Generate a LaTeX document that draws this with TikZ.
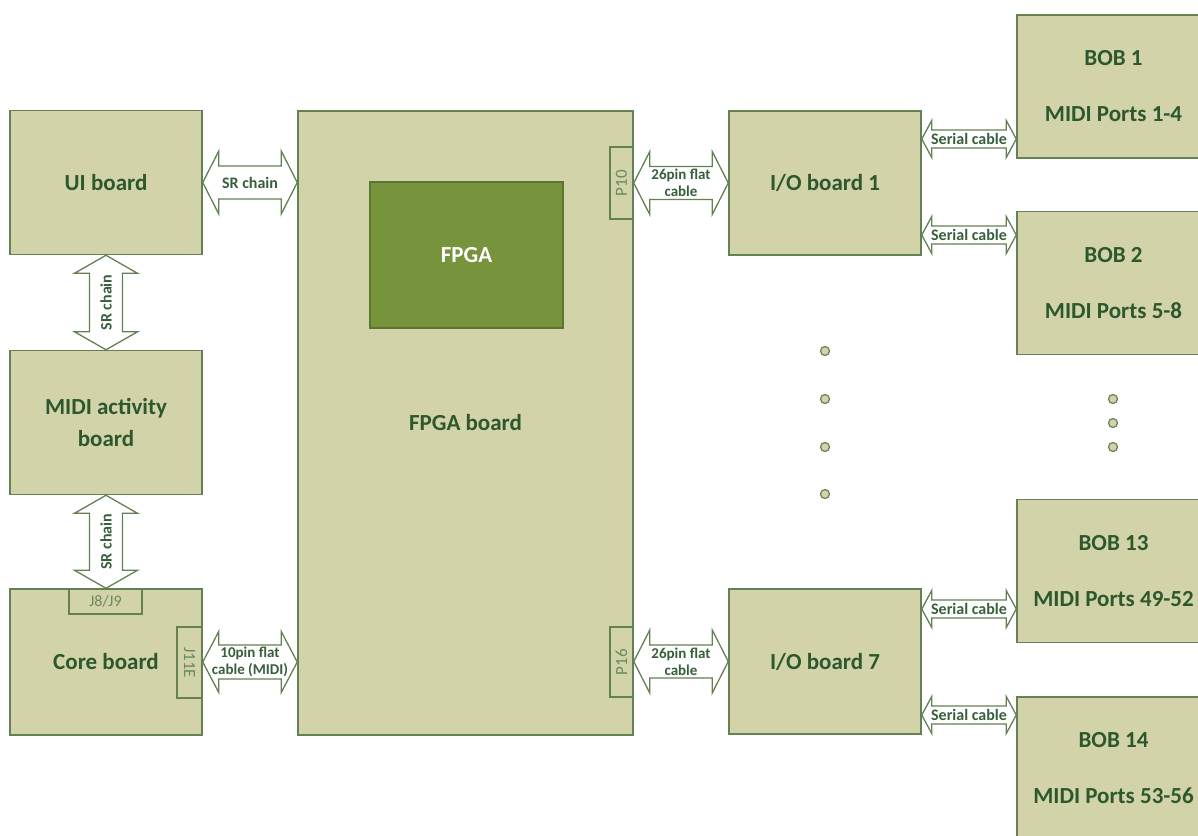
\documentclass[tikz,border=0pt]{standalone}
\usepackage{fontspec}
\setmainfont{Carlito}
\usetikzlibrary{calc}
\definecolor{boxfill}{RGB}{211,211,170}
\definecolor{boxline}{RGB}{100,128,85}
\definecolor{txt}{RGB}{45,88,45}
\definecolor{lbltxt}{RGB}{55,95,60}
\definecolor{chipfill}{RGB}{119,147,60}
\definecolor{chipline}{RGB}{92,116,52}
\definecolor{portxt}{RGB}{105,138,95}
% horizontal double block arrow: #1 left tip, #2 right tip, #3 shaft half, #4 head half, #5 head length
\newcommand\dblH[5]{\draw[barrow] let \p1=(#1), \p2=(#2) in
  (\x1,\y1) -- (\x1+#5pt,\y1+#4pt) -- (\x1+#5pt,\y1+#3pt) -- (\x2-#5pt,\y1+#3pt) -- (\x2-#5pt,\y1+#4pt)
  -- (\x2,\y1) -- (\x2-#5pt,\y1-#4pt) -- (\x2-#5pt,\y1-#3pt) -- (\x1+#5pt,\y1-#3pt) -- (\x1+#5pt,\y1-#4pt) -- cycle;}
% vertical double block arrow: #1 top tip, #2 bottom tip
\newcommand\dblV[5]{\draw[barrow] let \p1=(#1), \p2=(#2) in
  (\x1,\y1) -- (\x1+#4pt,\y1-#5pt) -- (\x1+#3pt,\y1-#5pt) -- (\x1+#3pt,\y2+#5pt) -- (\x1+#4pt,\y2+#5pt)
  -- (\x1,\y2) -- (\x1-#4pt,\y2+#5pt) -- (\x1-#3pt,\y2+#5pt) -- (\x1-#3pt,\y1-#5pt) -- (\x1-#4pt,\y1-#5pt) -- cycle;}
\begin{document}
\begin{tikzpicture}[x=1pt,y=-1pt,
  board/.style={draw=boxline, fill=boxfill, line width=1.5pt, minimum width=192pt, minimum height=144pt,
    inner sep=0pt, text=txt, font=\fontsize{23}{32}\selectfont\bfseries, align=center},
  bob/.style={board, font=\fontsize{23}{56}\selectfont\bfseries},
  chip/.style={draw=chipline, fill=chipfill, line width=1.5pt, minimum width=193pt, minimum height=146pt,
    inner sep=0pt, text=white, font=\fontsize{23}{28}\selectfont\bfseries},
  port/.style={draw=boxline, fill=boxfill, line width=1.3pt, inner sep=0pt, text=portxt,
    font=\fontsize{16}{18}\selectfont},
  barrow/.style={draw=boxline, fill=white, line width=1.3pt, line join=miter},
  lbl/.style={text=lbltxt, inner sep=0pt, align=center, font=\fontsize{15}{17}\selectfont\bfseries},
  slbl/.style={lbl, font=\fontsize{16}{18}\selectfont\bfseries},
  dot/.style={circle, draw=boxline, fill=boxfill, line width=1.2pt, minimum size=9pt, inner sep=0pt}]
\useasboundingbox (0,0) rectangle (1198,835);
\clip (0,0) rectangle (1198,835);

% boards
\node[board] (ui) at (106,182.5) {UI board};
\node[board] (midi) at (106,422.5) {MIDI activity\\board};
\node[board, minimum height=146pt] (core) at (106,662) {Core board};
\node[board, minimum width=335pt, minimum height=624pt] (fpgab) at (465.5,423) {FPGA board};
\node[chip] (chip) at (466.5,255) {FPGA};
\node[board] (io1) at (825,183) {I/O board 1};
\node[board, minimum height=145pt] (io7) at (825,661.5) {I/O board 7};
\node[bob, minimum width=193pt, minimum height=143pt] (bob1) at (1113.5,86.5) {BOB 1\\MIDI Ports 1-4};
\node[bob, minimum width=193pt, minimum height=143pt] (bob2) at (1113.5,283) {BOB 2\\MIDI Ports 5-8};
\node[bob, minimum width=193pt, minimum height=143pt] (bob13) at (1113.5,571) {BOB 13\\MIDI Ports 49-52};
\node[bob, minimum width=193pt, minimum height=143pt] (bob14) at (1113.5,768.5) {BOB 14\\MIDI Ports 53-56};

% connectors on boards
\node[port, minimum width=73pt, minimum height=25pt] (j8) at (105.5,601.5) {J8/J9};
\node[port, minimum width=25pt, minimum height=71pt, font=\fontsize{17}{18}\selectfont] (j11) at (189.5,662.5) {\rotatebox{-90}{J11E}};
\node[port, minimum width=23pt, minimum height=72pt, font=\fontsize{17}{18}\selectfont] (p10) at (621.5,183) {\rotatebox{90}{P10}};
\node[port, minimum width=23pt, minimum height=70pt, font=\fontsize{17}{18}\selectfont] (p16) at (621.5,662) {\rotatebox{90}{P16}};

% big arrows
\dblH{ui.east}{fpgab.west |- ui.east}{16.5}{31.5}{16}
\node[slbl] at ($(ui.east)!0.5!(fpgab.west |- ui.east)$) {SR chain};
\dblV{ui.south}{midi.north}{16.5}{31.5}{18}
\node[slbl, rotate=90] at ($(ui.south)!0.5!(midi.north)$) {SR chain};
\dblV{midi.south}{core.north}{16.5}{31.5}{18}
\node[slbl, rotate=90] at ($(midi.south)!0.5!(core.north)$) {SR chain};
\dblH{core.east}{fpgab.west |- core.east}{17}{30.5}{16}
\node[lbl] at ($(core.east)!0.5!(fpgab.west |- core.east)$) {10pin flat\\cable (MIDI)};
\dblH{fpgab.east |- io1.west}{io1.west}{16.5}{31.5}{16}
\node[lbl] at ($(fpgab.east |- io1.west)!0.5!(io1.west)$) {26pin flat\\cable};
\dblH{fpgab.east |- io7.west}{io7.west}{16.5}{31.5}{16}
\node[lbl] at ($(fpgab.east |- io7.west)!0.5!(io7.west)$) {26pin flat\\cable};

% serial cables
\coordinate (s1) at (io1.east |- 0,139);
\coordinate (s2) at (io1.east |- 0,235);
\coordinate (s3) at (io7.east |- 0,609);
\coordinate (s4) at (io7.east |- 0,715);
\dblH{s1}{bob1.west |- s1}{9}{18.5}{10}
\node[slbl] at ($(s1)!0.5!(bob1.west |- s1)$) {Serial cable};
\dblH{s2}{bob2.west |- s2}{9}{18.5}{10}
\node[slbl] at ($(s2)!0.5!(bob2.west |- s2)$) {Serial cable};
\dblH{s3}{bob13.west |- s3}{9}{18.5}{10}
\node[slbl] at ($(s3)!0.5!(bob13.west |- s3)$) {Serial cable};
\dblH{s4}{bob14.west |- s4}{9}{18.5}{10}
\node[slbl] at ($(s4)!0.5!(bob14.west |- s4)$) {Serial cable};

% ellipsis dots
\node[dot] (d1) at (825,351) {};
\node[dot] (d2) at (825,399) {};
\node[dot] (d3) at (825,447) {};
\node[dot] (d4) at (825,494) {};
\node[dot] (e1) at (1113,399) {};
\node[dot] (e2) at (1113,423) {};
\node[dot] (e3) at (1113,447) {};
\end{tikzpicture}
\end{document}
